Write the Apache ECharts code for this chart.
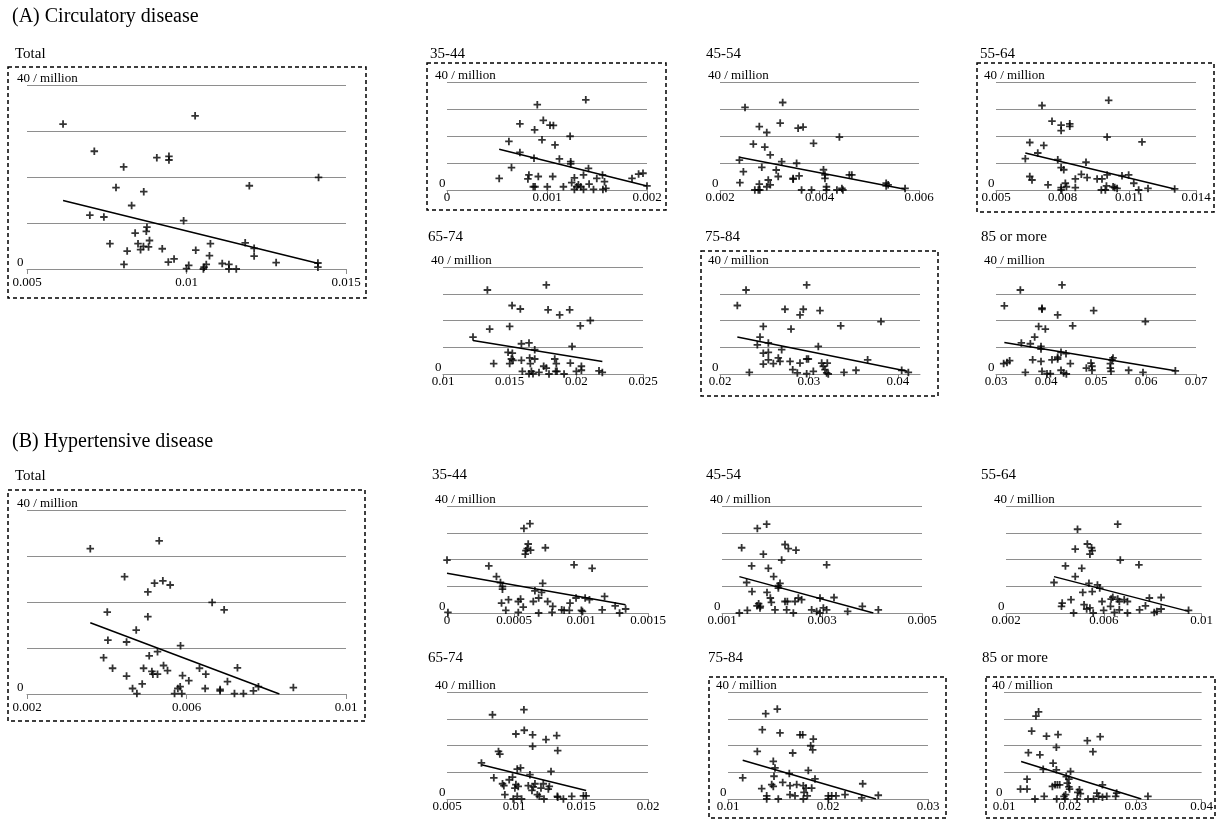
<!DOCTYPE html>
<html>
<head>
<meta charset="utf-8">
<script src="https://cdn.jsdelivr.net/npm/echarts@6/dist/echarts.min.js"></script>
<style>
  html, body { margin: 0; padding: 0; background: #fff; }
  #chart { width: 1216px; height: 820px; }
</style>
</head>
<body>
<div id="chart"></div>
<script>
// ---- data: [rate, deaths per million] ----
// (A) Circulatory disease
const circTotal = [[0.00613,31.5],[0.01027,33.3],[0.00711,25.6],[0.00803,22.2],[0.00907,24.2],[0.00945,24.5],[0.00945,23.7],[0.01414,19.9],[0.01197,18.1],[0.00779,17.7],[0.00866,16.8],[0.00828,13.8],[0.00697,11.7],[0.00741,11.3],[0.00991,10.5],[0.00876,9.1],[0.00874,8.2],[0.00839,7.8],[0.00884,6.2],[0.0076,5.5],[0.00848,5.5],[0.00865,4.9],[0.00881,4.8],[0.00856,4.2],[0.00814,3.9],[0.00924,4.4],[0.01029,4.1],[0.01075,5.5],[0.01184,5.7],[0.01212,4.5],[0.01212,2.8],[0.01072,2.9],[0.00961,2.2],[0.00943,1.5],[0.00804,1.0],[0.01007,0.8],[0.01,0.1],[0.01062,1.0],[0.01053,0],[0.01055,0.4],[0.01112,1.2],[0.01133,1.0],[0.01133,0],[0.01156,0],[0.01281,1.4],[0.01412,1.3],[0.01412,0.4]];
const circTotalFit = [[0.00613,14.9],[0.01414,1.2]];

const circ3544 = [[0.000903,31.6],[0.001388,33.4],[0.000729,24.5],[0.000963,25.8],[0.00103,24.0],[0.001064,23.9],[0.000876,22.3],[0.000619,18.0],[0.00095,18.6],[0.001231,19.9],[0.00108,16.7],[0.000729,13.9],[0.00087,11.8],[0.001124,11.5],[0.001237,10.5],[0.001237,9.7],[0.000645,8.3],[0.001415,8.0],[0.000522,4.3],[0.000819,5.6],[0.000809,4.1],[0.000913,5.0],[0.001057,5.0],[0.001274,4.5],[0.001365,5.6],[0.001498,4.3],[0.001555,5.6],[0.001575,3.1],[0.000863,1.2],[0.00088,1.2],[0.001003,1.2],[0.001164,1.2],[0.001247,2.7],[0.001298,1.2],[0.001314,1.9],[0.001338,1.2],[0.001365,0.2],[0.001421,2.2],[0.001465,0.2],[0.001559,0.2],[0.001589,0.6],[0.001274,0.2],[0.00185,4.3],[0.001916,5.9],[0.00196,6.2],[0.002,1.5]];
const circ3544Fit = [[0.000522,15.1],[0.002,1.5]];

const circ4554 = [[0.002503,30.6],[0.00326,32.4],[0.00279,23.5],[0.00294,21.3],[0.00321,24.8],[0.00357,22.9],[0.00367,23.3],[0.00267,17.0],[0.0029,15.9],[0.00388,17.3],[0.00301,13.0],[0.00239,11.1],[0.00324,10.5],[0.00354,9.9],[0.00247,6.8],[0.00284,8.4],[0.00313,7.4],[0.00317,5.0],[0.00347,4.3],[0.00359,5.2],[0.0024,2.7],[0.00279,2.2],[0.00297,3.7],[0.00294,1.2],[0.00301,1.9],[0.0027,0],[0.00277,0],[0.0028,0],[0.00364,0],[0.00384,0],[0.00347,4.0],[0.0044,19.6],[0.00411,5.6],[0.00411,4.3],[0.00414,1.2],[0.00414,0],[0.00435,0],[0.00445,0.6],[0.00447,0],[0.0046,5.6],[0.00465,5.6],[0.00534,2.5],[0.00534,1.5],[0.00538,1.9],[0.00572,0.6],[0.00408,7.5]];
const circ4554Fit = [[0.00239,12.1],[0.00572,0.3]];

const circ5564 = [[0.00707,31.3],[0.01007,33.2],[0.00752,25.5],[0.00793,24.0],[0.00793,22.0],[0.00832,24.5],[0.00832,23.6],[0.00652,17.6],[0.00715,16.5],[0.01,19.6],[0.01157,17.8],[0.00688,13.7],[0.00632,11.6],[0.00778,11.2],[0.00905,10.3],[0.00793,8.3],[0.00805,7.5],[0.00652,5.0],[0.00662,3.7],[0.00857,4.1],[0.00884,5.8],[0.0091,4.6],[0.00955,4.1],[0.00977,4.1],[0.01,5.6],[0.01067,5.3],[0.01097,5.6],[0.0112,2.5],[0.00734,1.9],[0.00793,0.9],[0.00793,0],[0.00812,2.5],[0.00817,1.2],[0.00857,0.9],[0.00974,0],[0.00992,0],[0.00997,1.5],[0.01027,1.2],[0.01034,0.9],[0.01045,0.6],[0.01142,0],[0.01184,0.6],[0.01304,0.4]];
const circ5564Fit = [[0.00632,13.7],[0.01304,0.4]];

const circ6574 = [[0.01333,31.4],[0.01775,33.3],[0.01518,25.6],[0.0158,24.3],[0.01788,24.0],[0.01875,22.1],[0.0195,24.0],[0.02105,20.0],[0.0203,18.0],[0.0135,16.8],[0.015,17.8],[0.01225,13.8],[0.01588,11.3],[0.01645,11.6],[0.01688,9.1],[0.01968,10.3],[0.01488,8.1],[0.0152,7.8],[0.01513,5.6],[0.01525,5.1],[0.01588,5.1],[0.0165,6.0],[0.01688,5.6],[0.015,3.9],[0.0138,3.9],[0.01655,3.9],[0.01755,2.9],[0.01775,2.2],[0.01838,5.6],[0.0185,3.9],[0.01955,4.1],[0.02038,2.9],[0.01595,1.0],[0.01645,0.1],[0.01663,1.0],[0.01675,0.1],[0.0172,0.6],[0.01795,0],[0.01845,1.0],[0.01855,1.0],[0.01908,0],[0.02,1.0],[0.02038,1.4],[0.0217,1.2],[0.02195,0.6]];
const circ6574Fit = [[0.01225,12.5],[0.02195,4.7]];

const circ7584 = [[0.02293,31.4],[0.02195,25.6],[0.02975,33.3],[0.02731,24.2],[0.02937,24.2],[0.029,22.1],[0.02487,17.8],[0.02799,16.8],[0.0245,13.8],[0.02544,11.6],[0.0242,10.9],[0.02694,9.1],[0.03106,10.3],[0.02487,7.8],[0.02544,8.1],[0.02487,3.7],[0.02544,5.3],[0.026,3.9],[0.02656,6.0],[0.02675,4.7],[0.02788,4.7],[0.029,4.1],[0.02975,5.6],[0.02994,5.6],[0.0233,0.6],[0.02818,1.6],[0.0287,0.4],[0.02975,0.1],[0.0305,1.0],[0.03125,23.7],[0.03358,18.0],[0.03811,19.6],[0.03144,4.1],[0.03207,4.1],[0.03162,2.9],[0.03181,1.6],[0.032,0.4],[0.03218,0],[0.03395,0.6],[0.0353,1.4],[0.03661,5.3],[0.04044,1.4],[0.04119,0.6]];
const circ7584Fit = [[0.02195,13.8],[0.04108,1.0]];

const circ85 = [[0.03487,31.4],[0.0432,33.3],[0.03167,25.5],[0.0392,24.2],[0.0392,24.6],[0.04233,22.1],[0.04953,23.7],[0.05987,19.6],[0.03853,17.8],[0.03987,16.8],[0.04533,18.0],[0.03773,13.8],[0.03507,11.6],[0.03687,11.3],[0.039,10.3],[0.039,9.3],[0.043,8.1],[0.044,7.6],[0.03153,3.9],[0.0322,4.3],[0.03273,5.0],[0.03733,5.3],[0.039,4.7],[0.0412,5.3],[0.04233,5.6],[0.04233,6.3],[0.04487,3.9],[0.04807,2.2],[0.049,4.1],[0.0492,2.9],[0.0492,1.4],[0.05287,3.9],[0.0532,5.3],[0.05287,2.2],[0.0534,6.0],[0.03587,0.6],[0.0392,1.0],[0.0402,0.1],[0.04087,0.1],[0.043,1.4],[0.04353,0.4],[0.04407,0],[0.05653,1.4],[0.0594,0.6],[0.06587,1.2],[0.053,1.0]];
const circ85Fit = [[0.03167,11.8],[0.06587,1.2]];

// (B) Hypertensive disease
const hypTotal = [[0.003587,31.6],[0.005315,33.3],[0.004447,25.5],[0.005198,24.1],[0.005407,24.6],[0.005591,23.7],[0.005031,22.2],[0.004013,17.8],[0.005031,16.8],[0.006643,19.9],[0.006944,18.3],[0.004739,13.9],[0.004029,11.7],[0.004497,11.3],[0.00585,10.5],[0.005273,9.2],[0.005065,8.3],[0.003921,7.9],[0.004146,5.6],[0.004497,3.9],[0.004923,5.6],[0.005132,4.9],[0.005157,4.3],[0.005273,4.3],[0.005424,6.2],[0.005524,5.1],[0.0059,4.0],[0.006058,2.9],[0.006326,5.6],[0.006484,4.3],[0.007027,2.7],[0.007278,5.7],[0.004647,1.2],[0.004756,0.1],[0.004889,2.2],[0.0057,0.1],[0.005783,1.2],[0.005841,1.6],[0.005883,0.1],[0.006468,1.2],[0.006843,1.0],[0.006843,0.7],[0.007203,0.1],[0.007428,0.1],[0.007678,0.7],[0.007804,1.6],[0.00868,1.4]];
const hypTotalFit = [[0.003587,15.5],[0.00833,0]];

const hyp3544 = [[0.000574,31.6],[0.000619,33.4],[0.000606,25.8],[0.000599,24.1],[0.000589,23.3],[0.000584,22.0],[0.000624,23.5],[0.000734,24.4],[0,19.8],[0.000312,17.6],[0.000948,18.0],[0.001083,16.7],[0.000369,13.6],[0.000399,11.4],[0.000414,9.9],[0.000414,8.9],[0.000714,11.1],[0.000656,8.3],[0.000706,7.7],[0.000684,5.6],[0.000407,3.7],[0.000459,5.0],[0.000532,4.3],[0.000549,5.2],[0.000644,4.3],[0.000751,4.3],[0.000569,2.2],[0.000789,2.5],[0.000918,3.7],[0.000963,5.6],[0.001031,5.6],[0.001063,5.0],[0.001176,6.2],[0.001255,2.7],[0.001333,1.5],[0.000439,1.0],[0.000532,0.2],[0.000684,0],[0.000784,0.2],[0.000856,1.2],[0.000874,1.0],[0.000913,1.0],[0.001003,1.0],[0.001011,0.6],[0.001158,1.2],[0.001288,0],[0.000007,0.2]];
const hyp3544Fit = [[0,14.9],[0.001333,3.1]];

const hyp4554 = [[0.001707,31.6],[0.001893,33.2],[0.001393,24.4],[0.001827,22.0],[0.00226,25.6],[0.002327,24.1],[0.00248,23.5],[0.002193,19.8],[0.001593,17.6],[0.001927,16.7],[0.002033,13.6],[0.001493,11.4],[0.00216,11.1],[0.002127,10.2],[0.002127,9.3],[0.0016,8.0],[0.0019,7.7],[0.001967,5.6],[0.001987,4.0],[0.001733,3.5],[0.001767,2.5],[0.0017,2.7],[0.00176,1.9],[0.00226,4.3],[0.002307,4.3],[0.00246,4.3],[0.002527,5.6],[0.002593,5.0],[0.002293,1.2],[0.002427,0],[0.00206,1.2],[0.001347,0],[0.001507,1.0],[0.002793,1.2],[0.002893,0.6],[0.00296,5.6],[0.003093,18.0],[0.00324,5.8],[0.003093,1.2],[0.00296,0],[0.003513,0.6],[0.003807,2.5],[0.004127,1.2],[0.003027,1.9]];
const hyp4554Fit = [[0.001347,13.6],[0.004027,0]];

const hyp5564 = [[0.004925,31.3],[0.006568,33.2],[0.004831,23.9],[0.005326,25.8],[0.005499,24.4],[0.005526,23.3],[0.005432,22.0],[0.006674,19.8],[0.007436,18.0],[0.004431,17.6],[0.005098,16.7],[0.004831,13.6],[0.003963,11.4],[0.005392,11.1],[0.00574,10.5],[0.005833,9.3],[0.005139,7.7],[0.005526,8.0],[0.004658,5.0],[0.004297,3.7],[0.00427,2.5],[0.005192,3.1],[0.005299,1.5],[0.005432,1.9],[0.005927,4.3],[0.0063,5.2],[0.006367,5.9],[0.006568,5.2],[0.006634,4.3],[0.006835,5.0],[0.006968,4.3],[0.006274,2.5],[0.004765,0],[0.005566,0],[0.005993,1.0],[0.006434,0.2],[0.006634,1.2],[0.006968,0],[0.007462,1.2],[0.007703,2.7],[0.007863,5.6],[0.008063,0.2],[0.00817,0.6],[0.008344,5.8],[0.008344,1.5],[0.009466,1.0]];
const hyp5564Fit = [[0.003963,13.6],[0.009466,0.6]];

const hyp6574 = [[0.008394,31.5],[0.01074,33.4],[0.010141,24.3],[0.010765,25.7],[0.011389,24.0],[0.012387,22.2],[0.013186,23.7],[0.011389,19.7],[0.013261,18.1],[0.008843,17.8],[0.008943,16.8],[0.007571,13.5],[0.010241,11.2],[0.01049,11.6],[0.012762,10.3],[0.01119,9.1],[0.008494,7.9],[0.009892,8.2],[0.009143,5.7],[0.009243,5.0],[0.009642,7.2],[0.010141,5.4],[0.010316,4.7],[0.010067,4.1],[0.011065,5.0],[0.011564,5.7],[0.011439,4.5],[0.012188,5.7],[0.012637,4.7],[0.012562,3.7],[0.01134,3.2],[0.011739,1.6],[0.009318,1.6],[0.009942,0],[0.010241,1.0],[0.010566,0],[0.011889,1.0],[0.012238,0],[0.013261,0.7],[0.013236,1.0],[0.013686,0],[0.01431,1.0],[0.015183,1.2],[0.015383,1.2],[0.012013,4.1]];
const hyp6574Fit = [[0.007571,12.8],[0.015383,3.2]];

const hyp7584 = [[0.01377,31.9],[0.01493,33.6],[0.01343,25.9],[0.0152,24.7],[0.0172,24.0],[0.01747,24.0],[0.01853,22.4],[0.01827,19.9],[0.01847,18.4],[0.01293,17.8],[0.01647,17.2],[0.01453,14.1],[0.0147,11.6],[0.01803,10.7],[0.01613,9.5],[0.01147,7.9],[0.0146,8.5],[0.01337,3.9],[0.01437,5.4],[0.01453,4.7],[0.01547,6.2],[0.0162,5.0],[0.01687,5.4],[0.01753,5.0],[0.0178,4.1],[0.01837,4.1],[0.0176,2.5],[0.01793,1.2],[0.01387,1.2],[0.01387,0],[0.01503,0],[0.01753,0],[0.0167,1.2],[0.0162,1.6],[0.02003,1.2],[0.02003,0],[0.02037,1.2],[0.0208,1.2],[0.0217,1.6],[0.02337,0.4],[0.02347,5.7],[0.02503,1.4],[0.0187,7.5]];
const hyp7584Fit = [[0.01147,14.5],[0.0248,0]];

const hyp85 = [[0.01525,32.6],[0.01485,31.0],[0.0142,25.4],[0.01645,23.5],[0.0182,24.1],[0.01795,19.3],[0.0137,17.3],[0.01545,16.5],[0.02265,21.8],[0.0246,23.3],[0.0235,17.7],[0.01745,13.4],[0.01595,11.1],[0.01795,10.9],[0.0201,10.3],[0.01945,8.4],[0.01985,7.4],[0.0135,7.4],[0.02495,5.3],[0.0125,3.7],[0.0135,3.7],[0.0147,0],[0.0161,1.0],[0.01735,4.7],[0.01775,5.3],[0.0181,5.3],[0.01845,5.3],[0.018,0],[0.0191,1.0],[0.01925,0],[0.0196,5.9],[0.01985,4.5],[0.01995,3.7],[0.01935,1.6],[0.0211,0],[0.0212,2.5],[0.02145,3.5],[0.0216,2.0],[0.02275,0],[0.0236,0],[0.0241,2.2],[0.02435,1.0],[0.02495,0.7],[0.0256,1.0],[0.02695,1.0],[0.0271,2.2],[0.03185,1.0]];
const hyp85Fit = [[0.0126,14.0],[0.03085,0]];

// x axis ranges [min, max, step]
const circTotalX = [0.005, 0.015, 0.005];
const circ3544X = [0, 0.002, 0.001];
const circ4554X = [0.002, 0.006, 0.002];
const circ5564X = [0.005, 0.014, 0.003];
const circ6574X = [0.01, 0.025, 0.005];
const circ7584X = [0.02, 0.0425, 0.01];
const circ85X = [0.03, 0.07, 0.01];
const hypTotalX = [0.002, 0.01, 0.004];
const hyp3544X = [0, 0.0015, 0.0005];
const hyp4554X = [0.001, 0.005, 0.002];
const hyp5564X = [0.002, 0.01, 0.004];
const hyp6574X = [0.005, 0.02, 0.005];
const hyp7584X = [0.01, 0.03, 0.01];
const hyp85X = [0.01, 0.04, 0.01];

// ---- layout ----
const panels = [
    { title: 'Total', tl: [15, 47], data: circTotal, fit: circTotalFit, x: circTotalX, grid: [27, 85, 319, 184], big: true, box: [8, 67, 358, 231] },
    { title: '35-44', tl: [430, 47], data: circ3544, fit: circ3544Fit, x: circ3544X, grid: [447, 82, 200, 108], box: [427, 63, 239, 147] },
    { title: '45-54', tl: [706, 47], data: circ4554, fit: circ4554Fit, x: circ4554X, grid: [720, 82, 199, 108] },
    { title: '55-64', tl: [980, 47], data: circ5564, fit: circ5564Fit, x: circ5564X, grid: [996, 82, 200, 108], box: [977, 63, 237, 149] },
    { title: '65-74', tl: [428, 230], data: circ6574, fit: circ6574Fit, x: circ6574X, grid: [443, 267, 200, 107] },
    { title: '75-84', tl: [705, 230], data: circ7584, fit: circ7584Fit, x: circ7584X, grid: [720, 267, 200, 107], box: [701, 251, 237, 145], hideMax: true },
    { title: '85 or more', tl: [981, 230], data: circ85, fit: circ85Fit, x: circ85X, grid: [996, 267, 200, 107] },
    { title: 'Total', tl: [15, 469], data: hypTotal, fit: hypTotalFit, x: hypTotalX, grid: [27, 510, 319, 184], big: true, box: [8, 490, 357, 231] },
    { title: '35-44', tl: [432, 468], data: hyp3544, fit: hyp3544Fit, x: hyp3544X, grid: [447, 506, 201, 107] },
    { title: '45-54', tl: [706, 468], data: hyp4554, fit: hyp4554Fit, x: hyp4554X, grid: [722, 506, 200, 107] },
    { title: '55-64', tl: [981, 468], data: hyp5564, fit: hyp5564Fit, x: hyp5564X, grid: [1006, 506, 200, 107] },
    { title: '65-74', tl: [428, 651], data: hyp6574, fit: hyp6574Fit, x: hyp6574X, grid: [447, 692, 201, 107] },
    { title: '75-84', tl: [708, 651], data: hyp7584, fit: hyp7584Fit, x: hyp7584X, grid: [728, 692, 200, 107], box: [709, 677, 237, 141] },
    { title: '85 or more', tl: [982, 651], data: hyp85, fit: hyp85Fit, x: hyp85X, grid: [1004, 692, 200, 107], box: [986, 677, 229, 141] }
];

const serif = '"Liberation Serif", "Times New Roman", serif';
const GRAY = '#8e8e8e';
const plus = 'path://M0,3.8H10V6.2H0Z M3.8,0H6.2V10H3.8Z';

const chart = echarts.init(document.getElementById('chart'));

const option = {
    animation: false,
    backgroundColor: '#fff',
    title: [
        { text: '(A) Circulatory disease', left: 12, top: 7, padding: 0,
          textStyle: { fontFamily: serif, fontSize: 20, fontWeight: 'normal', color: '#000' } },
        { text: '(B) Hypertensive disease', left: 12, top: 432, padding: 0,
          textStyle: { fontFamily: serif, fontSize: 20, fontWeight: 'normal', color: '#000' } }
    ],
    grid: [],
    xAxis: [],
    yAxis: [],
    series: [],
    graphic: []
};

panels.forEach((p, i) => {
    const [left, top, width, height] = p.grid;
    option.title.push({
        text: p.title, left: p.tl[0], top: p.tl[1], padding: 0,
        textStyle: { fontFamily: serif, fontSize: 15, fontWeight: 'normal', color: '#000' }
    });
    option.grid.push({ left, top, width, height });
    const xLabel = {
        color: '#000', fontFamily: serif, fontSize: 13,
        margin: p.big ? 7 : 1,
        formatter: v => String(+v.toFixed(6))
    };
    if (p.hideMax) xLabel.showMaxLabel = false;
    option.xAxis.push({
        gridIndex: i, type: 'value',
        min: p.x[0], max: p.x[1], interval: p.x[2],
        axisLine: { lineStyle: { color: GRAY, width: 1 } },
        axisTick: { show: true, length: 5, lineStyle: { color: GRAY } },
        splitLine: { show: false },
        axisLabel: xLabel
    });
    option.yAxis.push({
        gridIndex: i, type: 'value', min: 0, max: 40, interval: 10,
        axisLine: { show: false },
        axisTick: { show: false },
        splitLine: { lineStyle: { color: GRAY, width: 1 } },
        axisLabel: {
            align: 'left', verticalAlign: 'bottom',
            margin: p.big ? 10 : 12,
            color: '#000', fontFamily: serif, fontSize: 13,
            formatter: v => (v === 40 ? '40 / million' : v === 0 ? '{z|0}' : ''),
            rich: { z: { padding: [0, 0, 0, p.big ? 0 : 4], fontFamily: serif, fontSize: 13, color: '#000' } }
        }
    });
    option.series.push({
        type: 'scatter', xAxisIndex: i, yAxisIndex: i,
        data: p.data, symbol: plus, symbolSize: 7.5,
        itemStyle: { color: '#000' }, silent: true
    });
    option.series.push({
        type: 'line', xAxisIndex: i, yAxisIndex: i,
        data: p.fit, symbol: 'none',
        lineStyle: { color: '#000', width: 1.5 }, silent: true
    });
    if (p.box) {
        option.graphic.push({
            type: 'rect',
            shape: { x: p.box[0], y: p.box[1], width: p.box[2], height: p.box[3] },
            style: { fill: 'none', stroke: '#000', lineWidth: 1.5, lineDash: [4, 3] },
            silent: true
        });
    }
});

chart.setOption(option);
</script>
</body>
</html>
